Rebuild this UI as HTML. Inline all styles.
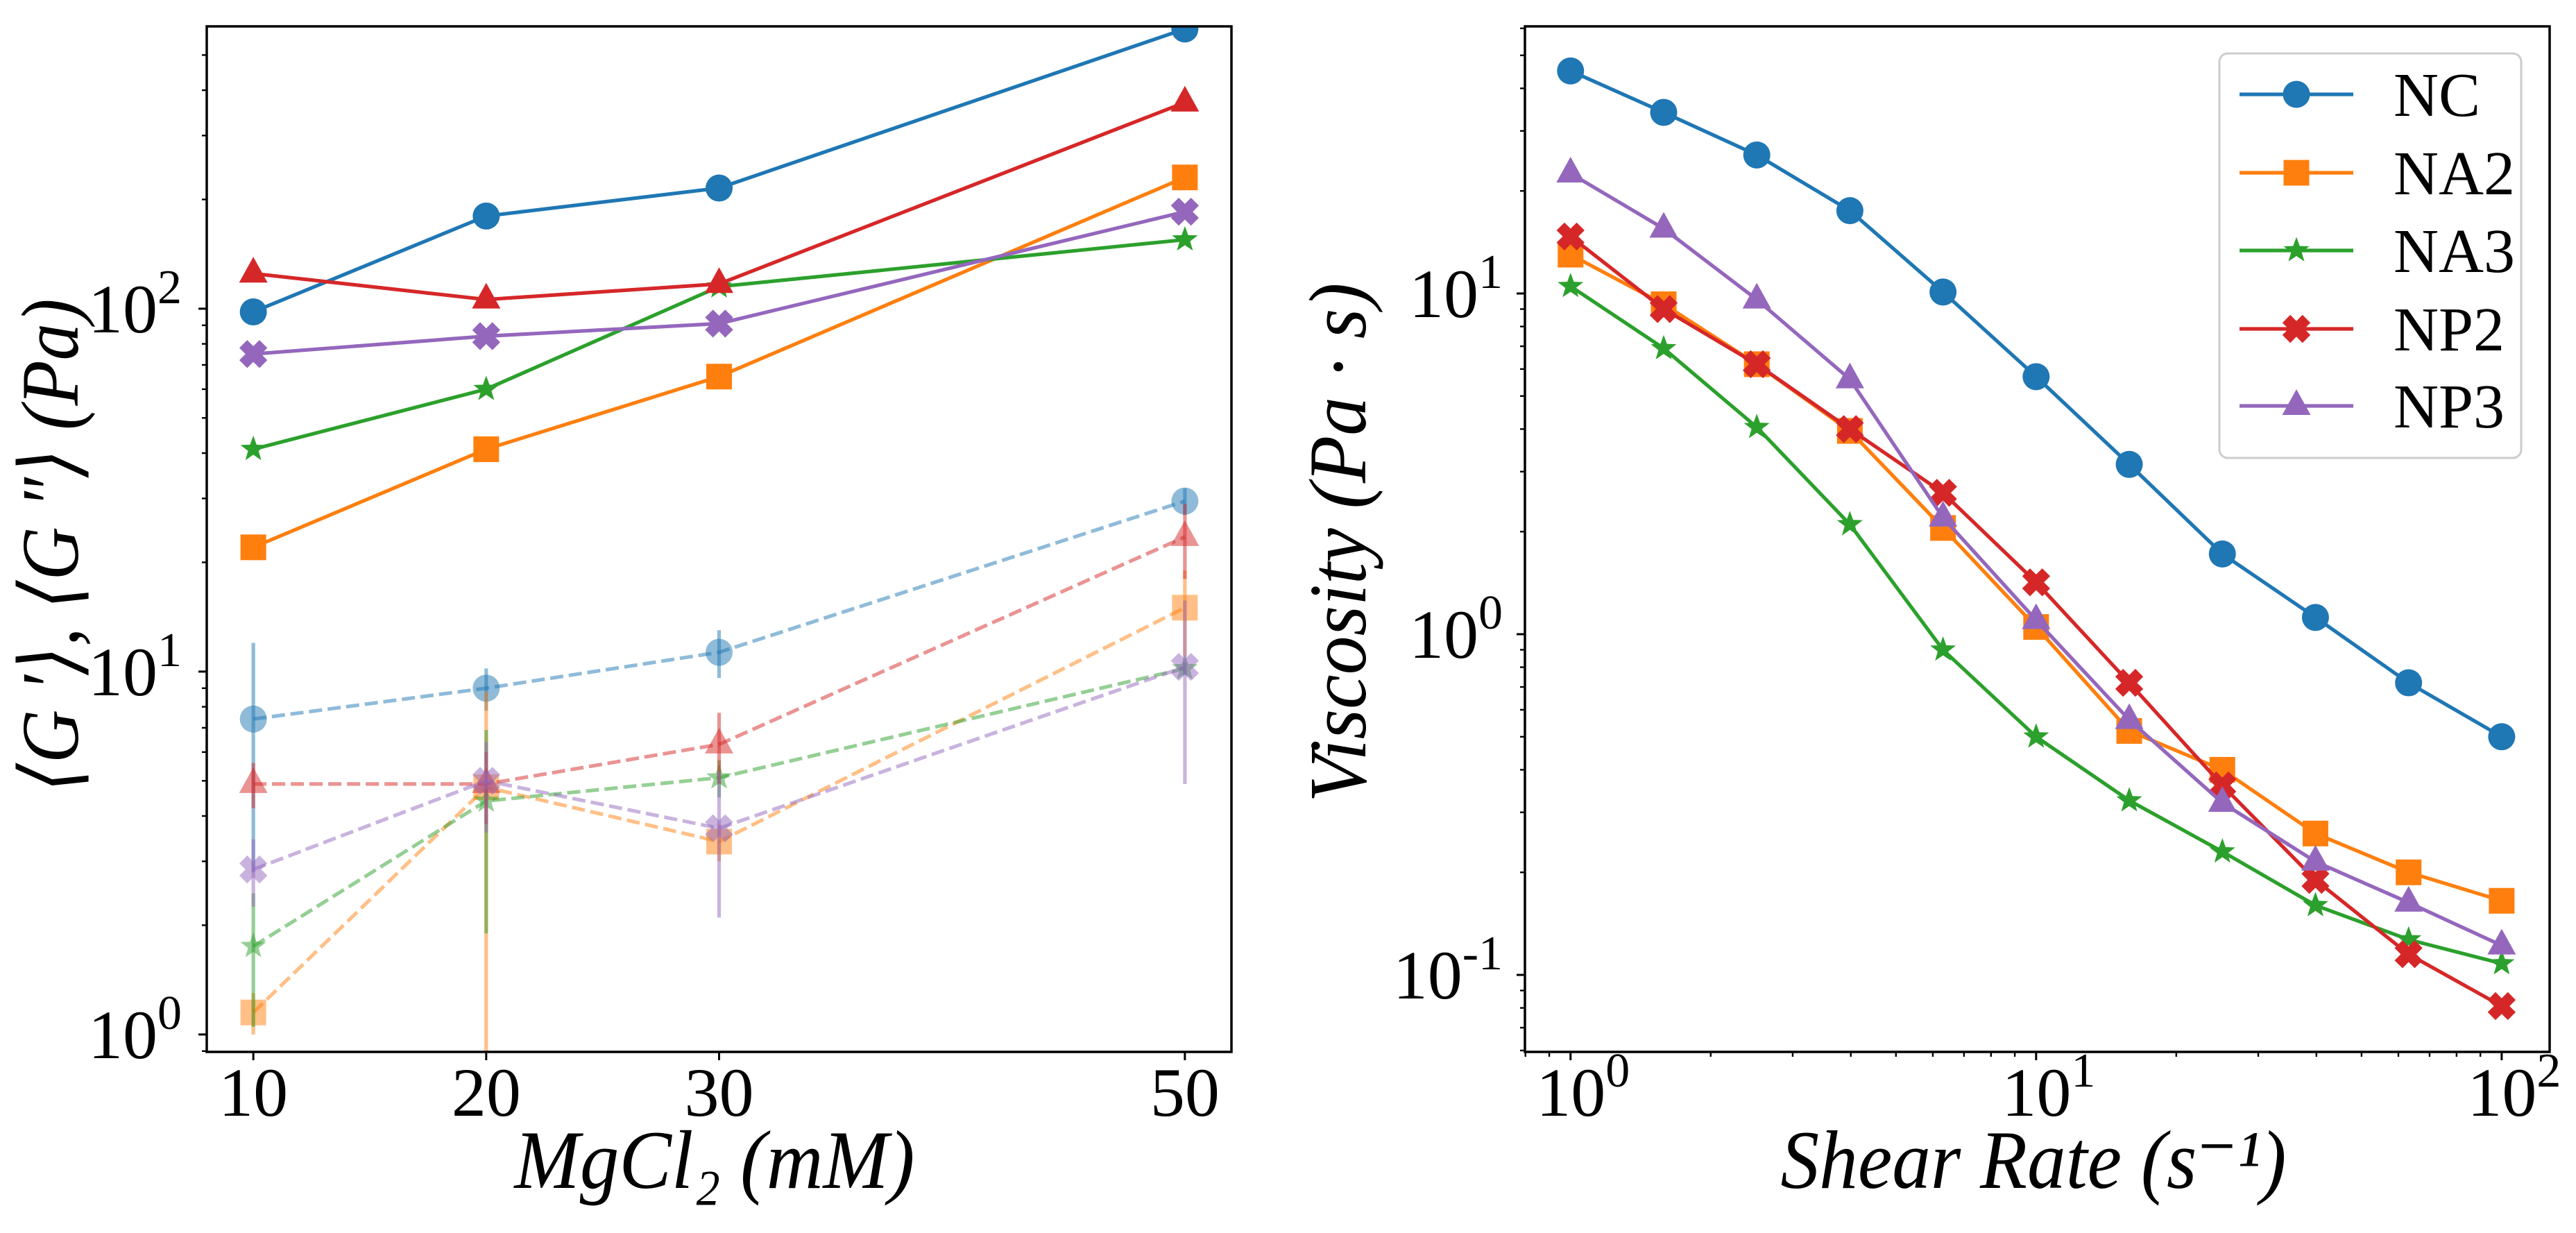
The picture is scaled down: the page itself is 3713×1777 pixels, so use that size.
<!DOCTYPE html>
<html><head><meta charset="utf-8"><style>
html,body{margin:0;padding:0;background:#fff;}
svg{display:block;font-family:"Liberation Serif","DejaVu Serif",serif;}
</style></head><body>
<svg id="fig" width="3713" height="1777" viewBox="0 0 3713 1777" xmlns="http://www.w3.org/2000/svg"></svg>
<script>
// ---- Left chart data ----
const mgCategories = [10, 20, 30, 50];
const seriesNames = ["NC", "NA2", "NA3", "NP2", "NP3"];
const seriesColors = ["#1f77b4", "#ff7f0e", "#2ca02c", "#d62728", "#9467bd"];
const gppNC  = [98, 180, 215, 590];
const gppNA2 = [22, 41, 65, 230];
const gppNA3 = [41, 60, 115, 155];
const gppNP2 = [125, 106, 117, 370];
const gppNP3 = [75, 84, 91, 185];
const gpNC  = [7.4, 9.0, 11.3, 29.5];
const gpNA2 = [1.15, 4.8, 3.4, 15];
const gpNA3 = [1.75, 4.4, 5.1, 10.2];
const gpNP2 = [4.9, 4.9, 6.3, 23.5];
const gpNP3 = [2.85, 5.0, 3.7, 10.3];
const gpErrNC  = [4.6, 1.2, 1.7, 2.5];
const gpErrNA2 = [0.15, 4.0, 0.4, 4.0];
const gpErrNA3 = [0.7, 2.5, 0.6, 0.4];
const gpErrNP2 = [0.7, 1.1, 1.4, 5.5];
const gpErrNP3 = [0.6, 1.4, 1.6, 5.4];
const leftYTicks = [0, 1, 2];
// ---- Right chart data ----
const shearRates = [1, 1.585, 2.512, 3.981, 6.31, 10, 15.85, 25.12, 39.81, 63.1, 100];
const viscNC  = [45, 34, 25.5, 17.5, 10.1, 5.7, 3.15, 1.72, 1.12, 0.72, 0.5];
const viscNA2 = [13, 9.3, 6.2, 3.95, 2.05, 1.05, 0.52, 0.40, 0.26, 0.20, 0.165];
const viscNA3 = [10.5, 6.9, 4.05, 2.1, 0.9, 0.5, 0.325, 0.23, 0.16, 0.127, 0.108];
const viscNP2 = [14.7, 9.0, 6.2, 4.0, 2.6, 1.42, 0.72, 0.36, 0.19, 0.115, 0.081];
const viscNP3 = [22.5, 15.5, 9.6, 5.6, 2.2, 1.1, 0.56, 0.32, 0.215, 0.163, 0.122];
const rightXTicks = [0, 1, 2];
const rightYTicks = [-1, 0, 1];

const NS = "http://www.w3.org/2000/svg";
const svg = document.getElementById("fig");
function el(tag, attrs, parent) {
  const e = document.createElementNS(NS, tag);
  for (const k in attrs) e.setAttribute(k, attrs[k]);
  (parent || svg).appendChild(e);
  return e;
}
const TOP = 38, BOT = 1516;
const LW = 5.2;
const L = {x0: 298, x1: 1775, xmin: 8, xmax: 52, ymin: -0.048, ymax: 2.778};
const lx = v => L.x0 + (v - L.xmin) / (L.xmax - L.xmin) * (L.x1 - L.x0);
const ly = v => BOT - (Math.log10(v) - L.ymin) / (L.ymax - L.ymin) * (BOT - TOP);
const R = {x0: 2198, x1: 3675, xmin: -0.098, xmax: 2.103, ymin: -1.226, ymax: 1.784};
const rx = v => R.x0 + (Math.log10(v) - R.xmin) / (R.xmax - R.xmin) * (R.x1 - R.x0);
const ry = v => BOT - (Math.log10(v) - R.ymin) / (R.ymax - R.ymin) * (BOT - TOP);

function marker(type, cx, cy, color, op, parent) {
  let m;
  if (type === "o") m = el("circle", {cx: cx, cy: cy, r: 19.5, fill: color}, parent);
  else if (type === "s") m = el("rect", {x: cx - 18.5, y: cy - 18.5, width: 37, height: 37, fill: color}, parent);
  else if (type === "^") m = el("polygon", {points: `${cx},${cy-24} ${cx+20.5},${cy+13} ${cx-20.5},${cy+13}`, fill: color}, parent);
  else if (type === "*") {
    let p = [];
    for (let i = 0; i < 10; i++) {
      const a = -Math.PI / 2 + i * Math.PI / 5, r = i % 2 ? 8 : 19.5;
      p.push((cx + r * Math.cos(a)).toFixed(1) + "," + (cy + r * Math.sin(a)).toFixed(1));
    }
    m = el("polygon", {points: p.join(" "), fill: color}, parent);
  } else {
    const w = 8, Lg = 20.5; let pts = [[w,w],[w,Lg],[-w,Lg],[-w,w],[-Lg,w],[-Lg,-w],[-w,-w],[-w,-Lg],[w,-Lg],[w,-w],[Lg,-w],[Lg,w]];
    const c = Math.SQRT1_2;
    m = el("polygon", {points: pts.map(([a,b]) => (cx + (a - b) * c).toFixed(1) + "," + (cy + (a + b) * c).toFixed(1)).join(" "), fill: color}, parent);
  }
  if (op < 1) m.setAttribute("fill-opacity", op);
  
  
  return m;
}
function poly(xs, ys, color, dashed, op, parent) {
  const p = el("polyline", {points: xs.map((x, i) => x.toFixed(1) + "," + ys[i].toFixed(1)).join(" "), fill: "none", stroke: color, "stroke-width": LW, "stroke-linejoin": "round"}, parent);
  if (dashed) p.setAttribute("stroke-dasharray", "19 8");
  if (op < 1) p.setAttribute("stroke-opacity", op);
  
  
  return p;
}
function tickLabel(x, y, exp, anchor, parent) {
  const t = el("text", {x: x, y: y, "font-size": 100, "text-anchor": anchor, fill: "#000"}, parent);
  t.textContent = "10";
  const s = el("tspan", {"font-size": 70, dy: -42}, t);
  s.textContent = String(exp);
  
  
  return t;
}

// ===== Left chart =====
const gL = el("g", {});


const clipL = el("clipPath", {id: "clipL"}); el("rect", {x: L.x0, y: TOP, width: L.x1 - L.x0, height: BOT - TOP}, clipL);
const plotL = el("g", {"clip-path": "url(#clipL)"}, gL);
const leftSolid = [gppNC, gppNA2, gppNA3, gppNP2, gppNP3];
const leftDash = [gpNC, gpNA2, gpNA3, gpNP2, gpNP3];
const leftErr = [gpErrNC, gpErrNA2, gpErrNA3, gpErrNP2, gpErrNP3];
const leftMarkers = ["o", "s", "*", "^", "X"];
const xsL = mgCategories.map(lx);
for (let s = 0; s < 5; s++) {
  const col = seriesColors[s];
  mgCategories.forEach((c, i) => {
    const lo = Math.max(leftDash[s][i] - leftErr[s][i], 0.5), hi = leftDash[s][i] + leftErr[s][i];
    const eb = el("line", {x1: lx(c), x2: lx(c), y1: ly(lo), y2: ly(hi), stroke: col, "stroke-width": LW, "stroke-opacity": 0.5}, plotL);
    
    
  });
  poly(xsL, leftDash[s].map(ly), col, true, 0.5, plotL);
  leftDash[s].forEach((v, i) => marker(leftMarkers[s], xsL[i], ly(v), col, 0.5, plotL));
}
for (let s = 0; s < 5; s++) {
  const col = seriesColors[s];
  poly(xsL, leftSolid[s].map(ly), col, false, 1, plotL);
  leftSolid[s].forEach((v, i) => marker(leftMarkers[s], xsL[i], ly(v), col, 1, plotL));
}
mgCategories.forEach(c => {
  el("line", {x1: lx(c), x2: lx(c), y1: BOT, y2: BOT + 12, stroke: "#000", "stroke-width": 3}, gL);
  const t = el("text", {x: lx(c), y: 1608, "font-size": 100, "text-anchor": "middle"}, gL);
  t.textContent = String(c);
  
  
});
for (let d = -1; d <= 2; d++) for (let m = 1; m <= 9; m++) {
  const v = m * Math.pow(10, d), lv = Math.log10(v);
  if (lv < L.ymin || lv > L.ymax) continue;
  el("line", {x1: L.x0 - (m === 1 ? 12 : 7), x2: L.x0, y1: ly(v), y2: ly(v), stroke: "#000", "stroke-width": m === 1 ? 3 : 2.4}, gL);
}
leftYTicks.forEach(e => tickLabel(262, ly(Math.pow(10, e)) + 34, e, "end", gL));
el("rect", {x: L.x0, y: TOP, width: L.x1 - L.x0, height: BOT - TOP, fill: "none", stroke: "#000", "stroke-width": 3.5}, gL);
let t = el("text", {x: 0, y: 0, "font-size": 118, "font-style": "italic", "text-anchor": "middle", transform: "translate(112,786) rotate(-90)", textLength: 711, lengthAdjust: "spacingAndGlyphs"}, gL);
t.textContent = "⟨G ′⟩, ⟨G ″⟩ (Pa)";


t = el("text", {x: 1030, y: 1712, "font-size": 120, "font-style": "italic", "text-anchor": "middle", textLength: 577, lengthAdjust: "spacingAndGlyphs"}, gL);
t.textContent = "MgCl₂ (mM)";



// ===== Right chart =====
const gR = el("g", {});


const clipR = el("clipPath", {id: "clipR"}); el("rect", {x: R.x0, y: TOP, width: R.x1 - R.x0, height: BOT - TOP}, clipR);
const plotR = el("g", {"clip-path": "url(#clipR)"}, gR);
const rightSeries = [viscNC, viscNA2, viscNA3, viscNP2, viscNP3];
const rightMarkers = ["o", "s", "*", "X", "^"];
const xsR = shearRates.map(rx);
for (let s = 0; s < 5; s++) {
  poly(xsR, rightSeries[s].map(ry), seriesColors[s], false, 1, plotR);
  rightSeries[s].forEach((v, i) => marker(rightMarkers[s], xsR[i], ry(v), seriesColors[s], 1, plotR));
}
for (let d = -1; d <= 2; d++) for (let m = 1; m <= 9; m++) {
  const v = m * Math.pow(10, d), lv = Math.log10(v);
  if (lv >= R.xmin && lv <= R.xmax) el("line", {x1: rx(v), x2: rx(v), y1: BOT, y2: BOT + (m === 1 ? 12 : 7), stroke: "#000", "stroke-width": m === 1 ? 3 : 2.4}, gR);
}
for (let d = -2; d <= 1; d++) for (let m = 1; m <= 9; m++) {
  const v = m * Math.pow(10, d), lv = Math.log10(v);
  if (lv >= R.ymin && lv <= R.ymax) el("line", {x1: R.x0 - (m === 1 ? 12 : 7), x2: R.x0, y1: ry(v), y2: ry(v), stroke: "#000", "stroke-width": m === 1 ? 3 : 2.4}, gR);
}
rightXTicks.forEach(e => tickLabel(rx(Math.pow(10, e)) + 18, 1608, e, "middle", gR));
rightYTicks.forEach(e => tickLabel(2166, ry(Math.pow(10, e)) + 34, e, "end", gR));
el("rect", {x: R.x0, y: TOP, width: R.x1 - R.x0, height: BOT - TOP, fill: "none", stroke: "#000", "stroke-width": 3.5}, gR);
t = el("text", {x: 0, y: 0, "font-size": 118, "font-style": "italic", "text-anchor": "middle", transform: "translate(1968,782) rotate(-90)", textLength: 749, lengthAdjust: "spacingAndGlyphs"}, gR);
t.textContent = "Viscosity (Pa · s)";


t = el("text", {x: 2931, y: 1712, "font-size": 120, "font-style": "italic", "text-anchor": "middle", textLength: 729, lengthAdjust: "spacingAndGlyphs"}, gR);
t.textContent = "Shear Rate (s⁻¹)";



// legend
const leg = el("g", {}, gR);


el("rect", {x: 3199, y: 77, width: 435, height: 583, rx: 12, fill: "#fff", "fill-opacity": 0.8, stroke: "#ccc", "stroke-width": 3}, leg);
const legRowY = [136, 249, 361, 474, 585];
seriesNames.forEach((n, i) => {
  const row = el("g", {}, leg);
  
  
  el("line", {x1: 3228, x2: 3392, y1: legRowY[i], y2: legRowY[i], stroke: seriesColors[i], "stroke-width": LW}, row);
  marker(rightMarkers[i], 3310, legRowY[i], seriesColors[i], 1, row);
  const tx = el("text", {x: 3450, y: legRowY[i] + 31, "font-size": 90}, row);
  tx.textContent = n;
});
</script>
</body></html>
